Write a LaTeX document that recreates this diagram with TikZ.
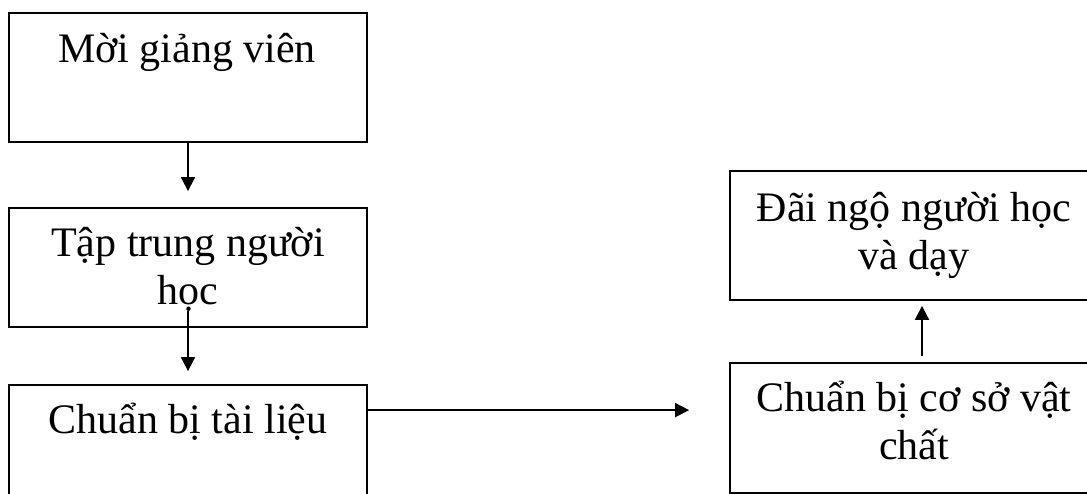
\documentclass[tikz,border=0pt]{standalone}
\usepackage{fontspec}
\setmainfont{Liberation Serif}
\usepackage{tikz}
\usetikzlibrary{positioning,arrows.meta,calc}
\tikzset{
    x=1pt,
    y=-1pt,
    block/.style = {
        draw,
        shape=rectangle,
        inner sep=0pt,
        minimum width=358pt,
        line width=1.8pt
    },
    wideblock/.style = {
        block,
        minimum width=366pt
    },
    label/.style = {
        anchor=base,
        align=center,
        inner sep=0pt,
        font=\fontsize{42}{48}\selectfont
    },
    >={Triangle[length=14pt,width=14pt]},
}

\begin{document}
\begin{tikzpicture}
                \useasboundingbox (0,0) rectangle (1087,494);
                \clip (0,0) rectangle (1087,494);

                \node[block, minimum height=129pt] (moi) at (188,77.5) {};
                \node[block, minimum height=119pt] (taptrung) at (188,267.5) {};
                \node[block, minimum height=130pt] (tailieu) at (188,450) {};
                \node[wideblock, minimum height=129pt] (daingo) at (913,235.5) {};
                \node[wideblock, minimum height=130pt] (coso) at (913,428) {};

                % base anchor sits on the last line
                \node[label] (moitext) at (187,63) {Mời giảng viên};
                \node[label] (taptrungtext) at (188,305) {Tập trung người\\học};
                \node[label] (tailieutext) at (188,433) {Chuẩn bị tài liệu};
                \node[label] (daingotext) at (914,270) {Đãi ngộ người học\\và dạy};
                \node[label] (cosotext) at (914,459) {Chuẩn bị cơ sở vật\\chất};

                \path[draw, line width=1.8pt, ->, shorten >=16pt] (moi) -- (taptrung);
                \path[draw, line width=1.8pt, ->] ($(taptrung.south)+(0,-17)$) -- ($(tailieu.north)+(0,-13)$);
                \path[draw, line width=1.8pt, ->, shorten >=40pt] ($(tailieu.north east)+(0,26)$) -- ($(coso.north west)+(0,48)$);
                \path[draw, line width=1.8pt, ->] ($(coso.north)+(9,-6)$) -- ($(daingo.south)+(9,5)$);
            \end{tikzpicture}
\end{document}
